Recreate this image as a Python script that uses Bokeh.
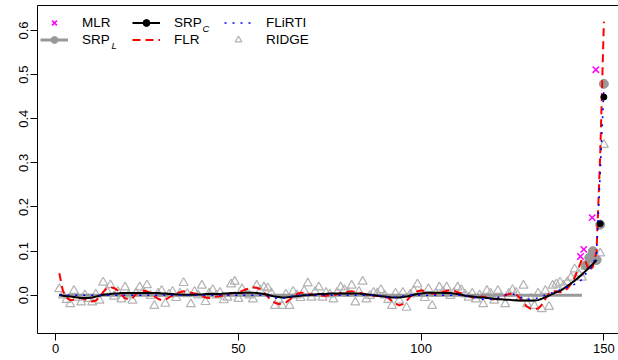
from bokeh.plotting import figure
from bokeh.models import (Range1d, FixedTicker, NumeralTickFormatter, LinearAxis,
                          Legend, LegendItem, Label)
from bokeh.embed import file_html
from bokeh.resources import INLINE

FONT = "Liberation Sans"

# ---------------- data ----------------
x_all = list(range(1, 151))

ridge = [
    0.014, 0.000, -0.010, -0.020, 0.010, -0.005, -0.016, 0.000, -0.008, -0.016,
    0.002, -0.012, 0.029, 0.010, 0.023, -0.003, 0.008, -0.009, 0.018, 0.000,
    -0.012, 0.005, 0.018, 0.008, 0.023, -0.001, -0.024, 0.004, 0.010, -0.019,
    0.002, 0.008, -0.006, 0.004, 0.028, 0.003, -0.020, 0.008, 0.000, 0.022,
    -0.015, 0.004, 0.012, 0.000, 0.006, -0.011, -0.005, 0.025, 0.031, -0.008,
    0.014, 0.004, 0.000, -0.009, 0.022, 0.010, 0.018, 0.016, 0.005, -0.024,
    -0.010, -0.024, 0.002, -0.024, 0.008, 0.000, -0.006, 0.010, 0.027, -0.005,
    0.008, 0.018, -0.005, 0.006, 0.002, -0.009, 0.006, 0.018, 0.012, 0.004,
    0.022, -0.016, 0.008, 0.031, -0.009, -0.001, 0.006, 0.004, 0.012, 0.000,
    -0.010, -0.024, 0.004, -0.012, 0.006, -0.028, 0.002, 0.010, 0.025, 0.004,
    -0.006, 0.014, -0.024, 0.004, 0.018, 0.008, 0.018, -0.001, 0.006, 0.018,
    0.012, 0.002, -0.005, 0.004, -0.009, 0.000, -0.020, 0.010, 0.004, -0.012,
    0.010, -0.004, -0.020, 0.004, 0.012, 0.006, -0.008, 0.022, -0.020, -0.008,
    -0.024, 0.004, -0.031, 0.010, -0.026, 0.022, 0.025, 0.029, 0.022, 0.030,
    0.040, 0.059, 0.050, 0.040, 0.065, 0.070, 0.080, 0.086, 0.095, 0.341,
]

flr = [
    0.050, 0.010, -0.006, -0.011, -0.010, -0.007, -0.006, -0.009, -0.013, -0.014,
    -0.012, -0.004, 0.007, 0.016, 0.019, 0.016, 0.011, 0.001, -0.007, -0.009,
    -0.007, 0.003, 0.008, 0.010, 0.009, 0.005, -0.002, -0.008, -0.011, -0.010,
    -0.005, 0.000, 0.004, 0.007, 0.009, 0.008, 0.006, 0.004, 0.001, -0.002,
    -0.005, -0.006, -0.005, -0.003, -0.002, 0.000, 0.002, 0.004, 0.006, 0.008,
    0.010, 0.013, 0.016, 0.018, 0.017, 0.014, 0.006, -0.003, -0.011, -0.017,
    -0.020, -0.019, -0.016, -0.010, -0.003, 0.003, 0.006, 0.006, 0.004, 0.002,
    0.000, 0.000, -0.001, -0.001, 0.000, 0.000, 0.002, 0.005, 0.007, 0.008,
    0.009, 0.008, 0.006, 0.004, 0.002, 0.000, -0.001, -0.001, -0.002, -0.003,
    -0.006, -0.013, -0.019, -0.023, -0.020, -0.013, -0.003, 0.004, 0.009, 0.011,
    0.010, 0.006, 0.004, 0.003, 0.005, 0.008, 0.010, 0.011, 0.010, 0.007,
    0.004, 0.001, -0.002, -0.005, -0.005, -0.004, -0.003, -0.005, -0.009, -0.009,
    -0.007, -0.004, 0.000, 0.003, 0.004, 0.002, -0.006, -0.017, -0.026, -0.031,
    -0.032, -0.030, -0.022, -0.008, 0.004, 0.009, 0.009, 0.007, 0.009, 0.015,
    0.026, 0.040, 0.060, 0.082, 0.076, 0.055, 0.065, 0.100, 0.320, 0.620,
]

flirti = [0.0] * 57 + [
    -0.002, -0.004, -0.006, -0.007, -0.007, -0.006, -0.004, -0.002,          # 58-65
] + [0.0] * 23 + [
    -0.001, -0.003, -0.005, -0.005, -0.005, -0.004, -0.002,                  # 89-95
] + [0.0] * 17 + [
    -0.002, -0.004, -0.006, -0.008, -0.009, -0.009, -0.009, -0.008, -0.005,  # 113-121
    -0.002, 0.001, 0.003, 0.003, 0.000, -0.004, -0.008, -0.009, -0.009,      # 122-130
    -0.008, -0.006, -0.003, 0.000, 0.003, 0.006, 0.009, 0.012, 0.015,        # 131-139
    0.018, 0.021, 0.025, 0.029, 0.036, 0.048, 0.058, 0.068, 0.095, 0.280,    # 140-149
    0.470,                                                                   # 150
]

srpc_x = list(range(1, 149))
srpc = [
    0.001, -0.001, -0.002, -0.003, -0.004, -0.005, -0.006, -0.006, -0.006, -0.005,
    -0.003, -0.001, 0.001, 0.002, 0.003, 0.004, 0.004, 0.005, 0.005, 0.005,
    0.005, 0.005, 0.005, 0.005, 0.005, 0.005, 0.005, 0.005, 0.004, 0.004,
    0.003, 0.003, 0.002, 0.002, 0.001, 0.001, 0.001, 0.001, 0.002, 0.002,
    0.003, 0.003, 0.003, 0.003, 0.003, 0.004, 0.004, 0.005, 0.005, 0.005,
    0.005, 0.006, 0.006, 0.006, 0.005, 0.004, 0.003, 0.001, -0.001, -0.003,
    -0.004, -0.005, -0.005, -0.004, -0.003, -0.002, -0.001, 0.000, 0.000, 0.001,
    0.002, 0.003, 0.003, 0.003, 0.004, 0.004, 0.004, 0.004, 0.004, 0.004,
    0.004, 0.004, 0.004, 0.003, 0.002, 0.001, 0.000, -0.001, -0.002, -0.003,
    -0.004, -0.005, -0.005, -0.005, -0.004, -0.003, -0.001, 0.001, 0.003, 0.004,
    0.005, 0.006, 0.006, 0.006, 0.006, 0.005, 0.005, 0.005, 0.004, 0.003,
    0.001, -0.001, -0.002, -0.003, -0.004, -0.005, -0.005, -0.006, -0.007, -0.008,
    -0.009, -0.009, -0.010, -0.010, -0.011, -0.011, -0.012, -0.012, -0.012, -0.012,
    -0.012, -0.011, -0.008, -0.004, -0.001, 0.003, 0.007, 0.010, 0.015, 0.021,
    0.027, 0.033, 0.040, 0.047, 0.055, 0.063, 0.071, 0.080,
]
srpc_pts_x = [149, 150]
srpc_pts = [0.162, 0.449]

srpl_x = list(range(1, 145))
srpl = [0.0] * 144
srpl_pts_x = [145, 146, 147, 148, 149, 150]
srpl_pts = [0.068, 0.085, 0.100, 0.080, 0.160, 0.479]

mlr_x = [143.6, 144.5, 146.8, 147.8]
mlr = [0.088, 0.104, 0.176, 0.511]

x_ticks = [0, 50, 100, 150]
y_ticks = [0.0, 0.1, 0.2, 0.3, 0.4, 0.5, 0.6]

# ---------------- figure ----------------
p = figure(frame_width=581, frame_height=328,
           x_range=Range1d(-4.96, 154.0), y_range=Range1d(-0.0866, 0.6565),
           output_backend="svg", toolbar_location=None,
           min_border_left=37, min_border_right=0, min_border_top=5,
           min_border_bottom=27)
p.outline_line_color = None
p.xgrid.visible = False
p.ygrid.visible = False
p.background_fill_color = "white"
p.border_fill_color = "white"

for ax in (p.xaxis[0], p.yaxis[0]):
    ax.axis_line_color = "black"
    ax.axis_line_width = 1
    ax.major_tick_out = 7
    ax.major_tick_in = 0
    ax.minor_tick_out = 0
    ax.minor_tick_in = 0
    ax.major_tick_line_color = "black"
    ax.major_label_text_font = FONT
    ax.major_label_text_font_size = "13px"
    ax.major_label_text_color = "black"

p.xaxis[0].ticker = FixedTicker(ticks=x_ticks)
p.xaxis[0].formatter = NumeralTickFormatter(format="0")
p.xaxis[0].major_label_standoff = 3
p.yaxis[0].ticker = FixedTicker(ticks=y_ticks)
p.yaxis[0].formatter = NumeralTickFormatter(format="0.0")
p.yaxis[0].major_label_orientation = "parallel"
p.yaxis[0].major_label_standoff = 2

top = LinearAxis(ticker=FixedTicker(ticks=[]), major_tick_out=0, major_tick_in=0,
                 minor_tick_out=0, minor_tick_in=0, axis_line_color="black",
                 major_label_text_font_size="0px")
p.add_layout(top, "above")

# ---------------- glyphs ----------------
r_ridge = p.scatter(x_all, ridge, marker="triangle", size=9, fill_color=None,
                    line_color="#B3B3B3", line_width=1.2)
r_srpl_line = p.line(srpl_x, srpl, line_color="#999999", line_width=3)
r_srpl_pts = p.scatter(srpl_pts_x, srpl_pts, marker="circle", size=9,
                       fill_color="#999999", line_color="#999999")
r_flr = p.line(x_all, flr, line_color="red", line_width=2, line_dash="8 5")
r_srpc_line = p.line(srpc_x, srpc, line_color="black", line_width=2)
r_srpc_pts = p.scatter(srpc_pts_x, srpc_pts, marker="circle", size=6,
                       fill_color="black", line_color="black")
r_flirti = p.line(x_all, flirti, line_color="blue", line_width=1.6, line_dash="2 6")
r_mlr = p.scatter(mlr_x, mlr, marker="x", size=9, line_color="magenta",
                  line_width=1.5)

legend = Legend(items=[
    LegendItem(label="MLR", renderers=[r_mlr]),
    LegendItem(label="SRP", renderers=[r_srpl_line, r_srpl_pts]),
    LegendItem(label="SRP", renderers=[r_srpc_line, r_srpc_pts]),
    LegendItem(label="FLR", renderers=[r_flr]),
    LegendItem(label="FLiRTI", renderers=[r_flirti]),
    LegendItem(label="RIDGE", renderers=[r_ridge]),
], orientation="vertical", nrows=2, location=(3, 285),
    glyph_width=28, glyph_height=17, label_height=17, label_width=50,
    label_standoff=14, spacing=0, padding=0, margin=0,
    border_line_color=None, background_fill_alpha=0,
    label_text_font=FONT, label_text_font_size="13.5px",
    label_text_color="black")
p.add_layout(legend)

sub_l = Label(x=74, y=288, x_units="screen", y_units="screen", text="L",
              text_font=FONT, text_font_size="9.5px", text_font_style="italic",
              text_baseline="alphabetic", text_color="black")
sub_c = Label(x=165, y=304.7, x_units="screen", y_units="screen", text="C",
              text_font=FONT, text_font_size="9.5px", text_font_style="italic",
              text_baseline="alphabetic", text_color="black")
p.add_layout(sub_l)
p.add_layout(sub_c)

open("out.html", "w").write(file_html(p, INLINE))
